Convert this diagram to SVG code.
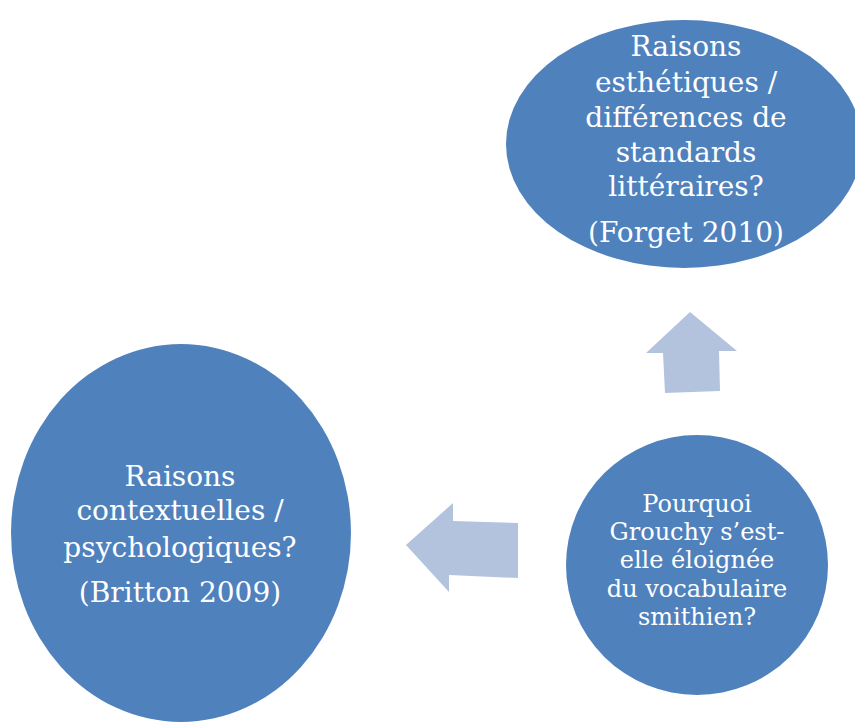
<svg xmlns="http://www.w3.org/2000/svg" width="855" height="722" viewBox="0 0 855 722">
<style>
.node{fill:#4F81BD}
.arrow{fill:#B3C3DE}
text{font-family:"DejaVu Serif","Liberation Serif",serif;fill:#FFFFFF;text-anchor:middle}
.big{font-size:28px}
.small{font-size:24px}
</style>
<rect width="855" height="722" fill="#FFFFFF"/>
<g id="connectors">
<polygon class="arrow" points="690,312 737,351 719,351 720,391 665,393 663,353 646,353"/>
<polygon class="arrow" points="406,545 453,503 453,521 518,523 518,578 449,575 449,592"/>
</g>
<g id="node-esthetiques">
<ellipse class="node" cx="684" cy="144" rx="178" ry="124"/>
<text class="big" x="686" y="56">Raisons</text>
<text class="big" x="686" y="92">esthétiques /</text>
<text class="big" x="686" y="127">différences de</text>
<text class="big" x="686" y="162">standards</text>
<text class="big" x="686" y="196">littéraires?</text>
<text class="big" x="686" y="242">(Forget 2010)</text>
</g>
<g id="node-contextuelles">
<ellipse class="node" cx="181" cy="533" rx="170" ry="189"/>
<text class="big" x="180" y="486">Raisons</text>
<text class="big" x="180" y="520">contextuelles /</text>
<text class="big" x="180" y="557">psychologiques?</text>
<text class="big" x="180" y="602">(Britton 2009)</text>
</g>
<g id="node-pourquoi">
<ellipse class="node" cx="697" cy="565" rx="131" ry="130"/>
<text class="small" x="697" y="512">Pourquoi</text>
<text class="small" x="697" y="540">Grouchy s’est-</text>
<text class="small" x="697" y="568">elle éloignée</text>
<text class="small" x="697" y="597">du vocabulaire</text>
<text class="small" x="697" y="625">smithien?</text>
</g>
</svg>
